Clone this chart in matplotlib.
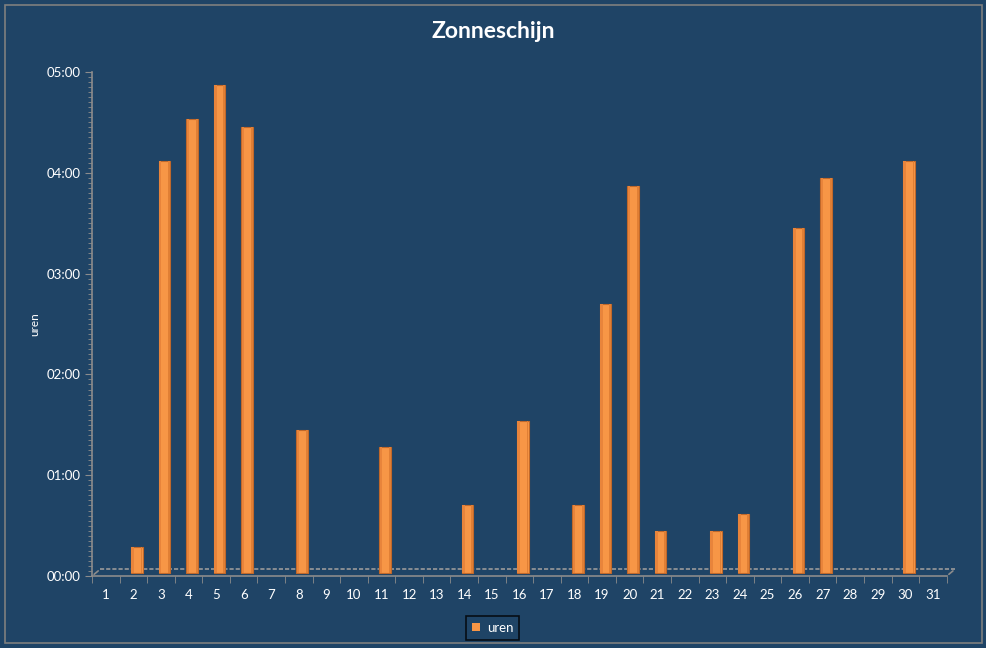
import matplotlib
matplotlib.use("Agg")
import matplotlib.pyplot as plt
from matplotlib.ticker import FixedLocator, MultipleLocator, FuncFormatter
import matplotlib.transforms as mtransforms

plt.rcParams["font.family"] = ["Lato", "DejaVu Sans"]

days = list(range(1, 32))
minutes = [0, 15, 245, 270, 290, 265, 0, 85, 0, 0, 75, 0, 0, 40, 0, 90,
           0, 40, 160, 230, 25, 0, 25, 35, 0, 205, 235, 0, 0, 245, 0]
hours = [m / 60 for m in minutes]
title = "Zonneschijn"
ylabel = "uren"
series_name = "uren"

bg = "#1F4466"
orange = "#F79646"
edge = "#C0682A"
grey = "#8C8C8C"

fig = plt.figure(figsize=(9.87, 6.48), dpi=100, facecolor=bg)
fig.patches.append(plt.Rectangle((0.005, 0.007), 0.99, 0.986, transform=fig.transFigure,
                                 fill=False, edgecolor="#7F7F7F", linewidth=1.2))
ax = fig.add_axes([0.0932, 0.111, 0.866, 0.778])
ax.set_facecolor(bg)

# 3D-like offset for bars (Excel 3D column look)
shift = ax.transData + mtransforms.ScaledTranslation(2.5 / 72, 2.5 / 72, fig.dpi_scale_trans)

bars = ax.bar(days, hours, width=0.42, color=orange, edgecolor=edge,
              linewidth=[0.8 if h > 0 else 0 for h in hours],
              label=series_name, zorder=3, transform=shift)
for b, h in zip(bars, hours):
    if h > 0:
        ax.bar(b.get_x() + b.get_width() * 0.14, h, width=b.get_width() * 0.22,
               color="#E8843B", linewidth=0, zorder=4, transform=shift)
        ax.bar(b.get_x() + b.get_width() * 0.9, h, width=b.get_width() * 0.16,
               color="#E07F35", linewidth=0, zorder=4, transform=shift)

ax.set_xlim(0.5, 31.5)
ax.set_ylim(0, 5)

ax.xaxis.set_major_locator(FixedLocator(days))
ax.set_xticks([d + 0.5 for d in [0] + days], minor=True)
ax.set_xticklabels([str(d) for d in days])
ax.tick_params(axis="x", which="major", length=0, pad=9, labelcolor="white", labelsize=9.5)
ax.tick_params(axis="x", which="minor", length=5, color=grey, direction="out")

ax.yaxis.set_major_locator(MultipleLocator(1))
ax.yaxis.set_minor_locator(MultipleLocator(0.05))
ax.yaxis.set_major_formatter(FuncFormatter(lambda v, p: "%02d:%02d" % (int(v), int(round((v % 1) * 60)))))
ax.tick_params(axis="y", which="major", length=5, color=grey, labelcolor="white", labelsize=9.5, pad=3.5)
ax.tick_params(axis="y", which="minor", length=3, color=grey)

for s in ["top", "right"]:
    ax.spines[s].set_visible(False)
for s in ["left", "bottom"]:
    ax.spines[s].set_color(grey)
    ax.spines[s].set_linewidth(1.2)

# 3D floor decoration
off = mtransforms.ScaledTranslation(6 / 72, 5 / 72, fig.dpi_scale_trans)
tr = ax.transAxes + off
ax.plot([0, 1], [0, 0], transform=tr, color="#9A9A9A", linestyle=(0, (2.5, 1.2)), linewidth=1.2,
        clip_on=False, zorder=2)
ax.annotate("", xy=(0, 0), xycoords=tr, xytext=(0, 0), textcoords=ax.transAxes,
            arrowprops=dict(arrowstyle="-", color=grey, lw=1.2))
ax.annotate("", xy=(1, 0), xycoords=tr, xytext=(1, 0), textcoords=ax.transAxes,
            arrowprops=dict(arrowstyle="-", color=grey, lw=1.2))

fig.text(0.4995, 1 - 31 / 648, title, color="white", fontsize=16.5, fontweight="bold",
         ha="center", va="center")
ax.set_ylabel(ylabel, color="white", fontsize=8.5, labelpad=4)

leg = ax.legend(loc="upper center", bbox_to_anchor=(0.469, -0.066), frameon=True,
                handlelength=0.6, handleheight=0.6, fontsize=9.5, borderpad=0.45,
                handletextpad=0.5, fancybox=False)
leg.get_frame().set_facecolor(bg)
leg.get_frame().set_edgecolor("black")
leg.get_frame().set_linewidth(1.2)
for t in leg.get_texts():
    t.set_color("white")

fig.savefig("out.png", dpi=100, facecolor=bg)
